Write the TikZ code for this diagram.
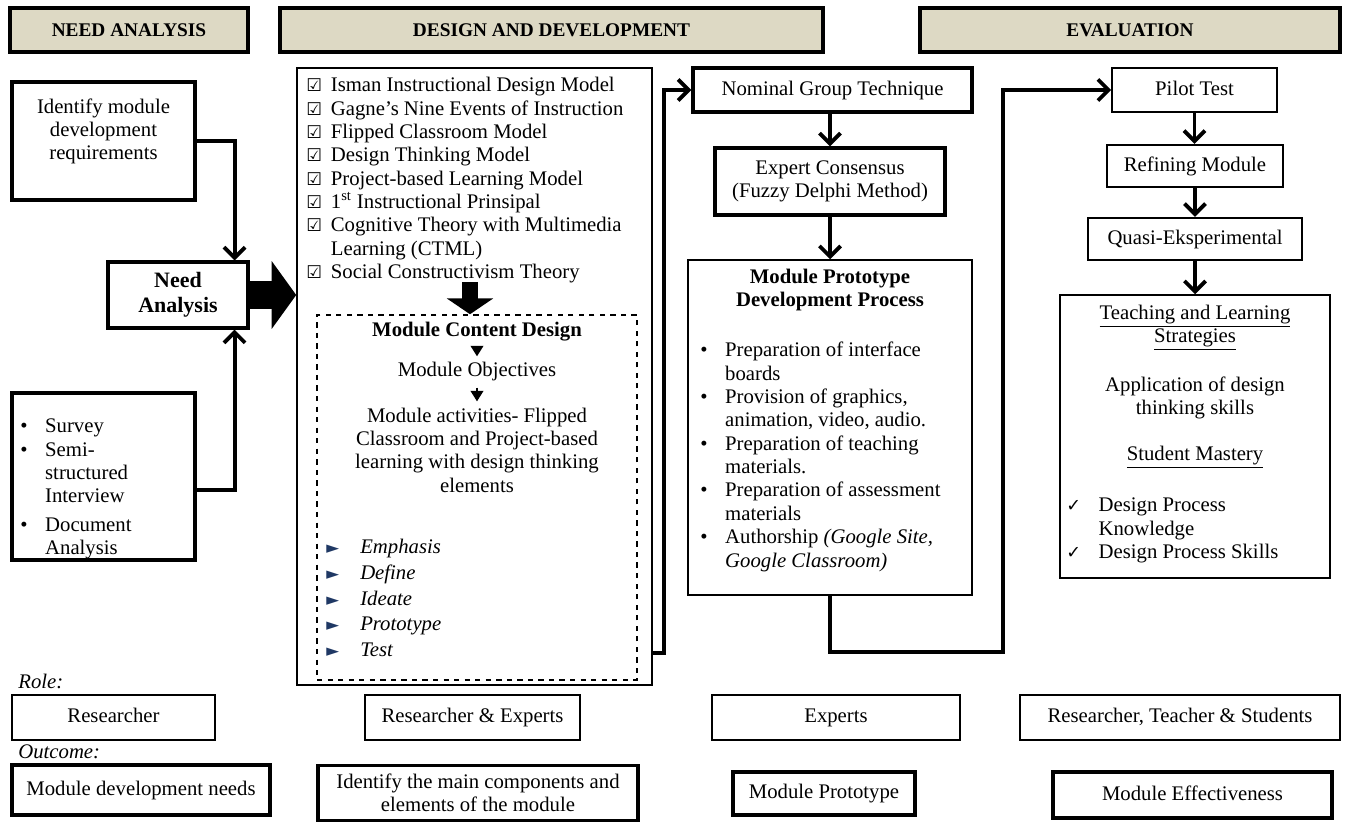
\documentclass[tikz,border=0pt]{standalone}
\usepackage{fontspec}
\setmainfont{Liberation Serif}
\newfontfamily\symfont{DejaVu Sans}
\usetikzlibrary{arrows.meta,positioning}

\definecolor{headfill}{HTML}{DDD9C4}
\definecolor{tipblue}{HTML}{1F3864}

\newcommand\bodyfont{\fontsize{11.8}{13.3}\selectfont}
\newcommand\cbox{{\symfont\fontsize{10}{12}\selectfont ☑}}
\newcommand\tick{{\symfont\fontsize{10}{12}\selectfont ✓}}
\newcommand\tri{{\symfont\fontsize{9.5}{12}\selectfont\color{tipblue}►}}

\tikzset{
  box/.style={draw, line width=0.9pt, align=center, inner sep=2pt},
  tbox/.style={box, line width=1.8pt},
  oneline/.style={text height=1.7ex, text depth=0.45ex},
  headbox/.style={draw, line width=1.8pt, fill=headfill, minimum height=0.88cm,
    font=\fontsize{11}{13}\selectfont\bfseries},
  conn/.style={line width=2.2pt, -{Straight Barb[length=6pt,width=12pt]}},
  bigarr/.style={line width=16pt, -{Triangle[length=14pt,width=38pt]}},
  blockarr/.style={line width=9pt, -{Triangle[length=9pt,width=26pt]}},
  smallarr/.style={line width=1.6pt, -{Triangle[length=6pt,width=7pt]}},
  txt/.style={inner sep=0pt, align=left, anchor=north west}
}

\begin{document}
\begin{tikzpicture}[x=0.02cm, y=-0.02cm, font=\bodyfont]
\useasboundingbox (0,0) rectangle (1348,821);

% phase headers
\node[headbox, minimum width=4.76cm] (hneed) at (129,30) {NEED ANALYSIS};
\node[headbox, minimum width=10.86cm] (hdesign) at (551.5,30) {DESIGN AND DEVELOPMENT};
\node[headbox, minimum width=8.4cm] (heval) at (1130,30) {EVALUATION};

% need analysis
\node[tbox, minimum width=3.66cm, minimum height=2.36cm] (ident) at (103.5,141)
  {Identify module\\development\\requirements\\\mbox{}};
\node[tbox, font=\fontsize{12.5}{14.5}\selectfont\bfseries, minimum width=2.8cm, minimum height=1.32cm] (need) at (178,295)
  {Need\\Analysis};
\node[tbox, minimum width=3.66cm, minimum height=3.34cm] (survey) at (103.5,476.5) {};
\node[txt] (methods) at (20,416)
  {\begin{tabular}{@{}l@{\hspace{10pt}}l@{}}
   • & Survey\\ • & Semi-\\ & structured\\ & Interview\\[3pt] • & Document\\ & Analysis
   \end{tabular}};

\draw[conn] (ident.east) -| ([xshift=-0.3cm]need.north east);
\draw[conn] ([yshift=-0.27cm]survey.east) -| ([xshift=-0.3cm]need.south east);

% design and development
\node[box, minimum width=7.1cm, minimum height=12.34cm] (design) at (474.5,376.5) {};
\draw[bigarr] (need.east) -- (need.east -| design.west);

\node[txt] (theories) at (306,75)
  {\begin{tabular}{@{}l@{\hspace{5pt}}l@{}}
   \cbox & Isman Instructional Design Model\\
   \cbox & Gagne's Nine Events of Instruction\\
   \cbox & Flipped Classroom Model\\
   \cbox & Design Thinking Model\\
   \cbox & Project-based Learning Model\\
   \cbox & 1\textsuperscript{st} Instructional Prinsipal\\
   \cbox & Cognitive Theory with Multimedia\\
         & Learning (CTML)\\
   \cbox & Social Constructivism Theory
   \end{tabular}};

\node[draw, dashed, line width=0.9pt, minimum width=6.4cm, minimum height=7.3cm] (content) at (477,497.5) {};
\coordinate (listend) at (470,282);
\draw[blockarr] (listend) -- (listend |- content.north);

\node[font=\bodyfont\bfseries] (mcd) at (477,332) {Module Content Design};
\node (mobj) at (477,372) {Module Objectives};
\node[align=center] (mact) at (477,450) {Module activities- Flipped\\Classroom and Project-based\\learning with design thinking\\elements};
\draw[smallarr] (mcd) -- (mobj);
\draw[smallarr] (mobj) -- (mact);

\node[txt] (phases) at (326,537)
  {\begin{tabular}{@{}l@{\hspace{12pt}}l@{}}
   \tri & \textit{Emphasis}\\[1.3pt]
   \tri & \textit{Define}\\[1.3pt]
   \tri & \textit{Ideate}\\[1.3pt]
   \tri & \textit{Prototype}\\[1.3pt]
   \tri & \textit{Test}
   \end{tabular}};

% prototype development
\node[tbox, oneline, minimum width=5.58cm, minimum height=0.88cm] (ngt) at (832.5,90) {Nominal Group Technique};
\node[tbox, minimum width=4.6cm, minimum height=1.34cm] (expert) at (830,181.5)
  {Expert Consensus\\(Fuzzy Delphi Method)};
\node[box, minimum width=5.68cm, minimum height=6.7cm] (proto) at (830,427.5) {};
\node[font=\bodyfont\bfseries, align=center] (ptitle) at (830,290) {Module Prototype\\Development Process};
\node[txt] (psteps) at (700,340)
  {\begin{tabular}{@{}l@{\hspace{10pt}}l@{}}
   • & Preparation of interface\\ & boards\\
   • & Provision of graphics,\\ & animation, video, audio.\\
   • & Preparation of teaching\\ & materials.\\
   • & Preparation of assessment\\ & materials\\
   • & Authorship \textit{(Google Site,}\\ & \textit{Google Classroom)}
   \end{tabular}};

\draw[conn] ([yshift=0.66cm]design.south east) -- ++(11,0) |- (ngt.west);
\draw[conn] (ngt.south -| expert.north) -- (expert.north);
\draw[conn] (expert.south) -- (expert.south |- proto.north);

% evaluation
\node[box, oneline, minimum width=3.3cm, minimum height=0.88cm] (pilot) at (1194.5,90) {Pilot Test};
\node[box, oneline, line width=1.3pt, minimum width=3.52cm, minimum height=0.84cm] (refine) at (1195,166) {Refining Module};
\node[box, oneline, line width=1.3pt, minimum width=4.28cm, minimum height=0.84cm] (quasi) at (1195,239) {Quasi-Eksperimental};
\node[box, minimum width=5.4cm, minimum height=5.66cm] (teach) at (1195,436.5) {};
\node[align=center] (tstrat) at (1195,328) {\underline{Teaching and Learning}\\\underline{Strategies}};
\node[align=center] (tapply) at (1195,398) {Application of design\\thinking skills};
\node (tmaster) at (1195,457) {\underline{Student Mastery}};
\node[txt] (tskills) at (1066,495)
  {\begin{tabular}{@{}l@{\hspace{10pt}}l@{}}
   \tick & Design Process\\ & Knowledge\\ \tick & Design Process Skills
   \end{tabular}};

\coordinate (evalbend) at (1003,652);
\draw[conn] (proto.south) |- (evalbend) |- (pilot.west);
\draw[conn] (pilot.south) -- (pilot.south |- refine.north);
\draw[conn] (refine.south) -- (refine.south |- quasi.north);
\draw[conn] (quasi.south) -- (quasi.south |- teach.north);

% roles and outcomes
\node[inner sep=0pt, anchor=west, font=\bodyfont\itshape] (rolelbl) at (18,681) {Role:};
\node[box, oneline, line width=1.3pt, minimum width=4.06cm, minimum height=0.9cm] (role1) at (113.5,717.5) {Researcher};
\node[box, oneline, line width=1.3pt, minimum width=4.3cm, minimum height=0.9cm] (role2) at (472.5,717.5) {Researcher \& Experts};
\node[box, oneline, line width=1.3pt, minimum width=4.96cm, minimum height=0.9cm] (role3) at (836,717.5) {Experts};
\node[box, oneline, line width=1.3pt, minimum width=6.4cm, minimum height=0.9cm] (role4) at (1180,717.5) {Researcher, Teacher \& Students};

\node[inner sep=0pt, anchor=west, font=\bodyfont\itshape] (outlbl) at (18,752) {Outcome:};
\node[tbox, oneline, minimum width=5.16cm, minimum height=1.0cm] (out1) at (141,790) {Module development needs};
\node[tbox, minimum width=6.4cm, minimum height=1.1cm] (out2) at (478,793) {Identify the main components and\\elements of the module};
\node[tbox, oneline, minimum width=3.64cm, minimum height=0.86cm] (out3) at (824,793.5) {Module Prototype};
\node[tbox, oneline, minimum width=5.58cm, minimum height=0.92cm] (out4) at (1192.5,795) {Module Effectiveness};
\end{tikzpicture}
\end{document}
